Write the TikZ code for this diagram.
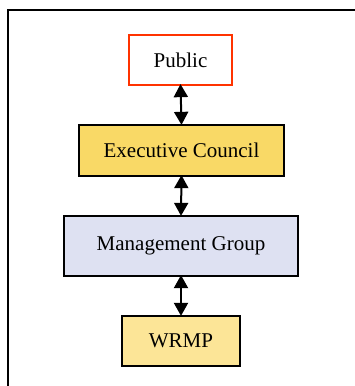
\documentclass[tikz,border=0pt]{standalone}
\usepackage{fontspec}
\setmainfont{Liberation Serif}
\usetikzlibrary{arrows.meta}
\definecolor{pubred}{HTML}{FF3300}
\definecolor{execfill}{HTML}{F9D966}
\definecolor{mgmtfill}{HTML}{DEE1F2}
\definecolor{wrmpfill}{HTML}{FCE597}
\begin{document}
\begin{tikzpicture}[x=1pt,y=-1pt,
  box/.style={draw=black,line width=1.3pt,inner sep=0pt,font=\fontsize{21}{25}\selectfont},
  link/.style={line width=2pt,{Triangle[width=14pt,length=13pt]}-{Triangle[width=14pt,length=13pt]}}]
\useasboundingbox (0,0) rectangle (355,386);
\draw[line width=1.6pt] (8,400) -- (8,10) -- (360,10);
\node[box,draw=pubred,fill=white,minimum width=103pt,minimum height=50pt] (pub) at (180.5,60) {Public};
\node[box,fill=execfill,minimum width=205pt,minimum height=51pt] (exec) at (181.5,150.5) {Executive Council};
\node[box,fill=mgmtfill,minimum width=234pt,minimum height=60pt] (mgmt) at (181,246) {Management Group};
\node[box,fill=wrmpfill,minimum width=118pt,minimum height=50pt] (wrmp) at (181,341) {WRMP};
\draw[link] ([yshift=1.5pt]pub.south) -- ([yshift=-0.5pt]exec.north);
\draw[link] ([yshift=1.5pt]exec.south) -- ([yshift=-0.5pt]mgmt.north);
\draw[link] ([yshift=1.5pt]mgmt.south) -- ([yshift=-0.5pt]wrmp.north);
\end{tikzpicture}
\end{document}
